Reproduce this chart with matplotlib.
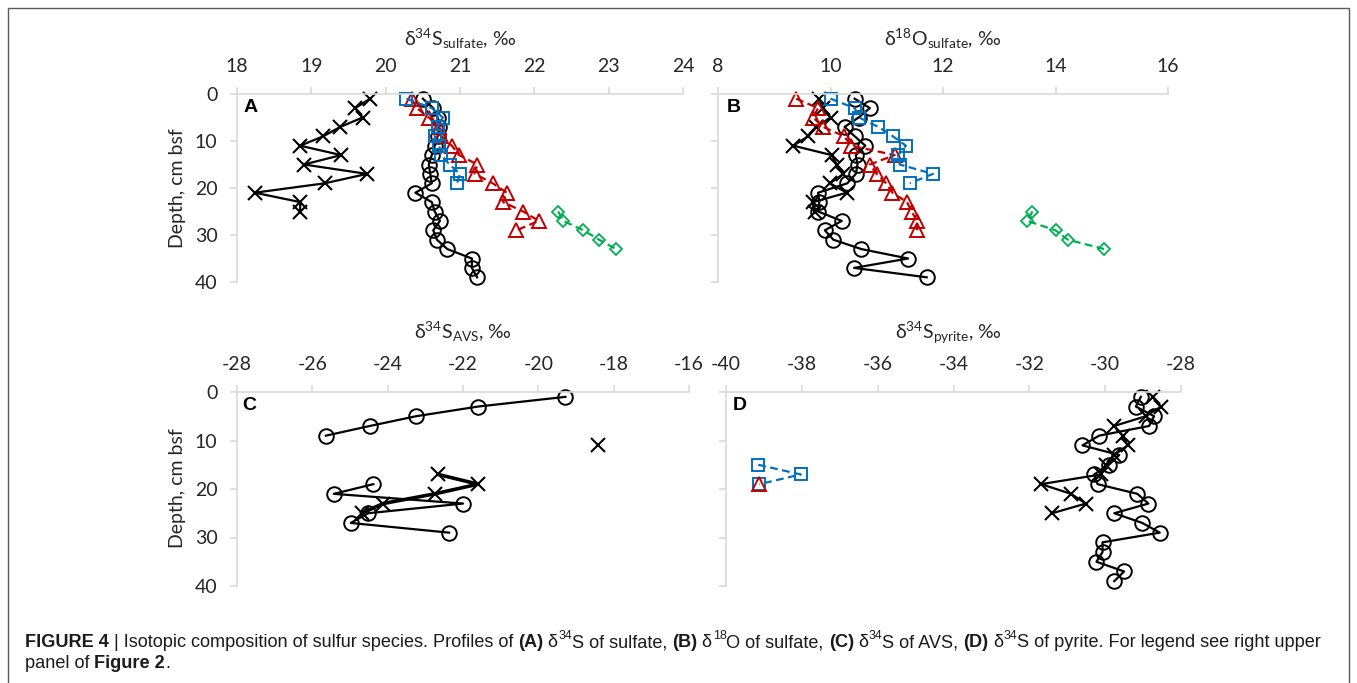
import numpy as np
import matplotlib
matplotlib.use("Agg")
import matplotlib.pyplot as plt
from matplotlib.patches import Rectangle

nan = np.nan

# depths (cm bsf)
depth_x = [1, 3, 5, 7, 9, 11, 13, 15, 17, 19, 21, 23, 25]
depth_o = [1, 3, 5, 7, 9, 11, 13, 15, 17, 19, 21, 23, 25, 27, 29, 31, 33, 35, 37, 39]
depth_tri = [1, 3, 5, 7, 9, 11, 13, 15, 17, 19, 21, 23, 25, 27, 29]
depth_sq = [1, 3, 5, 7, 9, 11, 13, 15, 17, 19]
depth_dia = [25, 27, 29, 31, 33]

# A: d34S sulfate
a_x = [19.79, 19.59, 19.69, 19.39, 19.16, 18.85, 19.40, 18.90, 19.75, 19.18, 18.24, 18.85, 18.85]
a_o = [20.50, 20.64, 20.70, 20.72, 20.70, 20.66, 20.62, 20.58, 20.60, 20.62,
       20.40, 20.62, 20.66, 20.73, 20.64, 20.69, 20.83, 21.16, 21.16, 21.23]
a_tri = [20.35, 20.42, 20.58, 20.72, 20.75, 20.89, 20.99, 21.23, 21.20, 21.44,
         21.63, 21.58, 21.85, 22.06, 21.76]
a_sq = [20.28, 20.62, 20.77, 20.70, 20.66, 20.72, 20.75, 20.86, 21.00, 20.96]
a_dia = [22.32, 22.39, 22.66, 22.87, 23.10]

# B: d18O sulfate
b_x = [9.80, 9.87, 10.00, 9.75, 9.60, 9.34, 10.02, 10.11, 10.23, 9.99, 10.29, 9.69, 9.72]
b_o = [10.43, 10.70, 10.50, 10.25, 10.43, 10.62, 10.45, 10.48, 10.45, 10.30,
       9.78, 9.80, 9.78, 10.20, 9.90, 10.05, 10.55, 11.38, 10.42, 11.71]
b_tri = [9.39, 9.78, 9.69, 9.87, 10.24, 10.37, 11.14, 10.70, 10.82, 10.99,
         11.10, 11.36, 11.44, 11.54, 11.54]
b_sq = [10.00, 10.43, 10.51, 10.85, 11.11, 11.34, 11.20, 11.23, 11.82, 11.41]
b_dia = [13.59, 13.50, 14.00, 14.22, 14.87]

# C: d34S AVS (gaps = no data)
c_o_depth = [1, 3, 5, 7, 9, 11, 13, 15, 17, 19, 21, 23, 25, 27, 29]
c_o = [-19.28, -21.60, -23.25, -24.47, -25.64, nan, nan, nan, nan,
       -24.38, -25.43, -22.00, -24.52, -24.98, -22.37]
c_x_depth = [11, 13, 15, 17, 19, 21, 23, 25]
c_x = [-18.41, nan, nan, -22.66, -21.60, -22.75, -24.12, -24.69]

# D: d34S pyrite
d_o = [-29.06, -29.19, -28.71, -28.84, -30.16, -30.60, -29.63, -29.90, -30.29, -30.20,
       -29.15, -28.86, -29.76, -29.02, -28.56, -30.07, -30.07, -30.23, -29.50, -29.76]
d_x = [-28.75, -28.53, -28.93, -29.76, -29.54, -29.41, -29.76, -29.98, -30.11,
       -31.69, -30.90, -30.51, -31.40]
d_sq_depth = [15, 17, 19]
d_sq = [-39.15, -38.03, -39.12]
d_tri_depth = [19]
d_tri = [-39.12]

RED = "#C00000"
BLUE = "#0070C0"
GREEN = "#00B050"
GRID = "#d9d9d9"

plt.rcParams["font.family"] = ["Lato", "DejaVu Sans"]
plt.rcParams["axes.unicode_minus"] = False
plt.rcParams["mathtext.fontset"] = "custom"
plt.rcParams["mathtext.rm"] = "Lato"
plt.rcParams["mathtext.it"] = "Lato:italic"
plt.rcParams["mathtext.bf"] = "Lato:bold"
plt.rcParams["mathtext.fallback"] = "stixsans"

W, H = 1357, 683
fig = plt.figure(figsize=(W / 100, H / 100), dpi=100)


def px_axes(x0, x1, y0, y1):
    return fig.add_axes([x0 / W, 1 - y1 / H, (x1 - x0) / W, (y1 - y0) / H])


def style(ax, xlim, xticks, ylabels=True):
    ax.set_xlim(*xlim)
    ax.set_ylim(40, 0)
    ax.set_xticks(xticks)
    ax.set_yticks([0, 10, 20, 30, 40])
    ax.xaxis.tick_top()
    for s in ["right", "bottom"]:
        ax.spines[s].set_visible(False)
    for s in ["top", "left"]:
        ax.spines[s].set_color(GRID)
        ax.spines[s].set_linewidth(1.2)
    ax.tick_params(direction="out", length=5, width=1.2, color=GRID,
                   labelsize=14, labelcolor="#262626", pad=9)
    if not ylabels:
        ax.set_yticklabels([])
    ax.set_facecolor("none")


def series(ax, x, y, kind, lw=1.6):
    if kind == "x":
        ax.plot(x, y, color="black", lw=lw, marker="x", ms=10, mew=1.5, clip_on=False)
    elif kind == "o":
        ax.plot(x, y, color="black", lw=1.6, marker="o", ms=10.5, mew=1.4,
                mfc="none", clip_on=False)
    elif kind == "tri":
        ax.plot(x, y, color=RED, lw=1.6, ls=(0, (3.5, 2)), marker="^", ms=9.5,
                mew=1.4, mfc="none", clip_on=False)
    elif kind == "sq":
        ax.plot(x, y, color=BLUE, lw=1.6, ls=(0, (3.5, 2)), marker="s", ms=9,
                mew=1.4, mfc="none", clip_on=False)
    elif kind == "dia":
        ax.plot(x, y, color=GREEN, lw=1.6, ls=(0, (3.5, 2)), marker="D", ms=6,
                mew=1.3, mfc="none", clip_on=False)


# panel A
axA = px_axes(237, 683, 94, 282)
style(axA, (18, 24), np.arange(18, 25, 1))
series(axA, a_x, depth_x, "x")
series(axA, a_o, depth_o, "o")
series(axA, a_tri, depth_tri, "tri")
series(axA, a_sq, depth_sq, "sq")
series(axA, a_dia, depth_dia, "dia")

# panel B
axB = px_axes(718, 1168, 94, 282)
style(axB, (8, 16), np.arange(8, 17, 2), ylabels=False)
series(axB, b_x, depth_x, "x")
series(axB, b_o, depth_o, "o")
series(axB, b_tri, depth_tri, "tri")
series(axB, b_sq, depth_sq, "sq")
series(axB, b_dia, depth_dia, "dia")

# panel C
axC = px_axes(237, 689, 392, 586)
style(axC, (-28, -16), np.arange(-28, -15, 2))
series(axC, c_o, c_o_depth, "o")
series(axC, c_x, c_x_depth, "x", lw=2.6)

# panel D
axD = px_axes(726, 1181, 392, 586)
style(axD, (-40, -28), np.arange(-40, -27, 2), ylabels=False)
series(axD, d_o, depth_o, "o")
series(axD, d_x, depth_x, "x")
series(axD, d_sq, d_sq_depth, "sq")
series(axD, d_tri, d_tri_depth, "tri")

# axis titles
titles = [
    (r"$\mathrm{\delta}^{34}\mathrm{S}_{\mathrm{sulfate}}$, ‰", 460, 46),
    (r"$\mathrm{\delta}^{18}\mathrm{O}_{\mathrm{sulfate}}$, ‰", 943, 46),
    (r"$\mathrm{\delta}^{34}\mathrm{S}_{\mathrm{AVS}}$, ‰", 463, 339),
    (r"$\mathrm{\delta}^{34}\mathrm{S}_{\mathrm{pyrite}}$, ‰", 948, 339),
]
for txt, x, y in titles:
    fig.text(x / W, 1 - y / H, txt, ha="center", va="baseline", fontsize=14,
             color="#262626")

for y in (188, 488):
    fig.text(178 / W, 1 - y / H, "Depth, cm bsf", rotation=90, ha="center",
             va="center", fontsize=14, color="#262626")

for lab, x, y in [("A", 244, 108), ("B", 727, 108), ("C", 242, 405), ("D", 733, 406)]:
    fig.text(x / W, 1 - y / H, lab, ha="left", va="center", fontsize=14,
             fontweight="bold", family=["Liberation Sans", "DejaVu Sans"])

# outer frame
fig.add_artist(Rectangle((8 / W, -0.05), (1349 - 8) / W, 1 - 8 / H + 0.05,
                         transform=fig.transFigure, fill=False, ec="#595959", lw=1))

# caption, drawn run by run
cap_family = ["Liberation Sans Narrow", "Liberation Sans", "DejaVu Sans"]
line1 = [("FIGURE 4", "b"), (" | Isotopic composition of sulfur species. Profiles of ", "n"),
         ("(A)", "b"), (" δ", "n"), ("34", "s"), ("S of sulfate, ", "n"),
         ("(B)", "b"), (" δ", "n"), ("18", "s"), ("O of sulfate, ", "n"),
         ("(C)", "b"), (" δ", "n"), ("34", "s"), ("S of AVS, ", "n"),
         ("(D)", "b"), (" δ", "n"), ("34", "s"), ("S of pyrite. For legend see right upper", "n")]
line2 = [("panel of ", "n"), ("Figure 2", "b"), (".", "n")]

renderer = fig.canvas.get_renderer()


def run_width(text, kind, size):
    fs = size * 0.68 if kind == "s" else size
    fw = "bold" if kind == "b" else "normal"
    t1 = fig.text(0, 0, "|" + text + "|", fontsize=fs, fontweight=fw, family=cap_family)
    t2 = fig.text(0, 0, "||", fontsize=fs, fontweight=fw, family=cap_family)
    w = t1.get_window_extent(renderer).width - t2.get_window_extent(renderer).width
    t1.remove()
    t2.remove()
    return w


def draw_line(runs, x0, base, size):
    x = x0
    for text, kind in runs:
        fs = size * 0.68 if kind == "s" else size
        fw = "bold" if kind == "b" else "normal"
        y = base - (size * 0.42 * 100 / 72 if kind == "s" else 0)
        fig.text(x / W, 1 - y / H, text, fontsize=fs, fontweight=fw,
                 family=cap_family, ha="left", va="baseline", color="#1a1a1a")
        x += run_width(text, kind, size)


size0 = 12.0
total = sum(run_width(t, k, size0) for t, k in line1)
size = size0 * (1328 - 25) / total
draw_line(line1, 25, 647, size)
draw_line(line2, 25, 668, size)

fig.savefig("out.png", dpi=100)
